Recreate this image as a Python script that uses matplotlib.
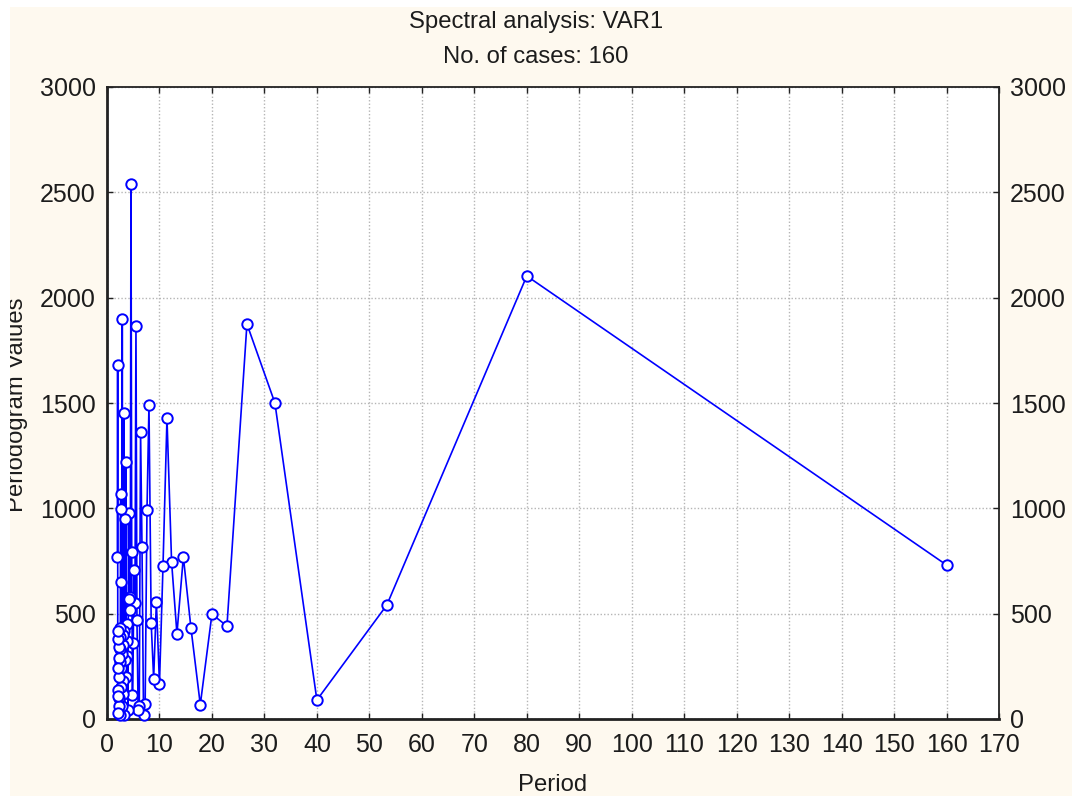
import matplotlib
matplotlib.use('Agg')
import matplotlib.pyplot as plt
from matplotlib.patches import Rectangle
from matplotlib.transforms import Bbox, TransformedBbox

title_lines = ["Spectral analysis: VAR1", "No. of cases: 160"]
x_label = "Period"
y_label = "Periodogram Values"

periods = [160.0, 80.0, 53.33, 40.0, 32.0, 26.67, 22.86, 20.0, 17.78, 16.0,
           14.55, 13.33, 12.31, 11.43, 10.67, 10.0, 9.41, 8.89, 8.42, 8.0,
           7.62, 7.27, 6.96, 6.67, 6.4, 6.15, 5.93, 5.71, 5.52, 5.33,
           5.16, 5.0, 4.85, 4.71, 4.57, 4.44, 4.32, 4.21, 4.10, 4.0,
           3.90, 3.81, 3.72, 3.64, 3.56, 3.48, 3.40, 3.33, 3.27, 3.2,
           3.14, 3.08, 3.02, 2.96, 2.91, 2.86, 2.81, 2.76, 2.71, 2.67,
           2.62, 2.58, 2.54, 2.5, 2.46, 2.42, 2.39, 2.35, 2.32, 2.29,
           2.25, 2.22, 2.19, 2.16, 2.13, 2.11, 2.08, 2.05, 2.03, 2.0]

values = [731, 2103, 541, 90, 1500, 1875, 441, 498, 68, 432,
          770, 405, 745, 1427, 725, 168, 555, 192, 455, 1490,
          990, 70, 20, 818, 1361, 60, 45, 470, 1867, 552,
          707, 362, 114, 794, 2540, 580, 517, 571, 979, 43,
          451, 300, 370, 200, 1221, 280, 948, 20, 420, 1454,
          350, 180, 400, 120, 1897, 60, 310, 648, 240, 150,
          1068, 995, 330, 20, 432, 270, 390, 100, 340, 200,
          60, 290, 140, 380, 30, 240, 110, 420, 1680, 770]

x_ticks = list(range(0, 171, 10))
y_ticks = list(range(0, 3001, 500))

plt.rcParams['font.family'] = ['Liberation Sans', 'DejaVu Sans']
FS = 17.2
FS_TICK = 18
TXT = '#1c1c1c'
W, H = 1072, 796

fig = plt.figure(figsize=(W / 100, H / 100), dpi=100, facecolor='white')
panel = Rectangle((10 / W, 0), 1 - 10 / W, 1 - 7 / H, transform=fig.transFigure,
                  facecolor='#FEF9EF', edgecolor='none', zorder=-10)
fig.patches.append(panel)

ax = fig.add_axes([107 / W, 1 - 719 / H, (999 - 107) / W, (719 - 87) / H])
ax.set_facecolor('white')

ax.plot(periods, values, color='#0000FF', linewidth=1.2, marker='o',
        markersize=7.5, markerfacecolor='white', markeredgecolor='#0000FF',
        markeredgewidth=1.4, zorder=3, clip_on=False)

ax.set_xlim(0, 170)
ax.set_ylim(0, 3000)
ax.set_xticks(x_ticks)
ax.set_yticks(y_ticks)
ax.grid(True, color='#B5B5B5', linestyle=(0, (1, 1.5)), linewidth=1.0, zorder=0)
ax.set_axisbelow(True)

for s in ax.spines.values():
    s.set_color('#222222')
    s.set_linewidth(1.3)
ax.spines['left'].set_linewidth(2.0)
ax.spines['bottom'].set_linewidth(2.0)

ax.tick_params(axis='both', direction='in', length=4, width=1, colors='#222222',
               labelsize=FS_TICK, labelcolor=TXT, top=True, right=True)
ax.tick_params(axis='y', labelright=True, pad=8)
ax.tick_params(axis='x', pad=10)

fig.text(536 / W, 1 - 22 / H, title_lines[0], ha='center', va='center',
         fontsize=FS, color=TXT)
fig.text(536 / W, 1 - 57 / H, title_lines[1], ha='center', va='center',
         fontsize=FS, color=TXT)
fig.text(553 / W, 1 - 785 / H, x_label, ha='center', va='center',
         fontsize=FS, color=TXT)
yl = fig.text(17 / W, 1 - 405 / H, y_label, ha='center', va='center',
              rotation=90, fontsize=FS, color=TXT)
yl.set_clip_box(TransformedBbox(Bbox.from_extents(10 / W, 0, 1, 1 - 7 / H),
                                fig.transFigure))
yl.set_clip_on(True)

fig.savefig('out.png', dpi=100, facecolor=fig.get_facecolor())
